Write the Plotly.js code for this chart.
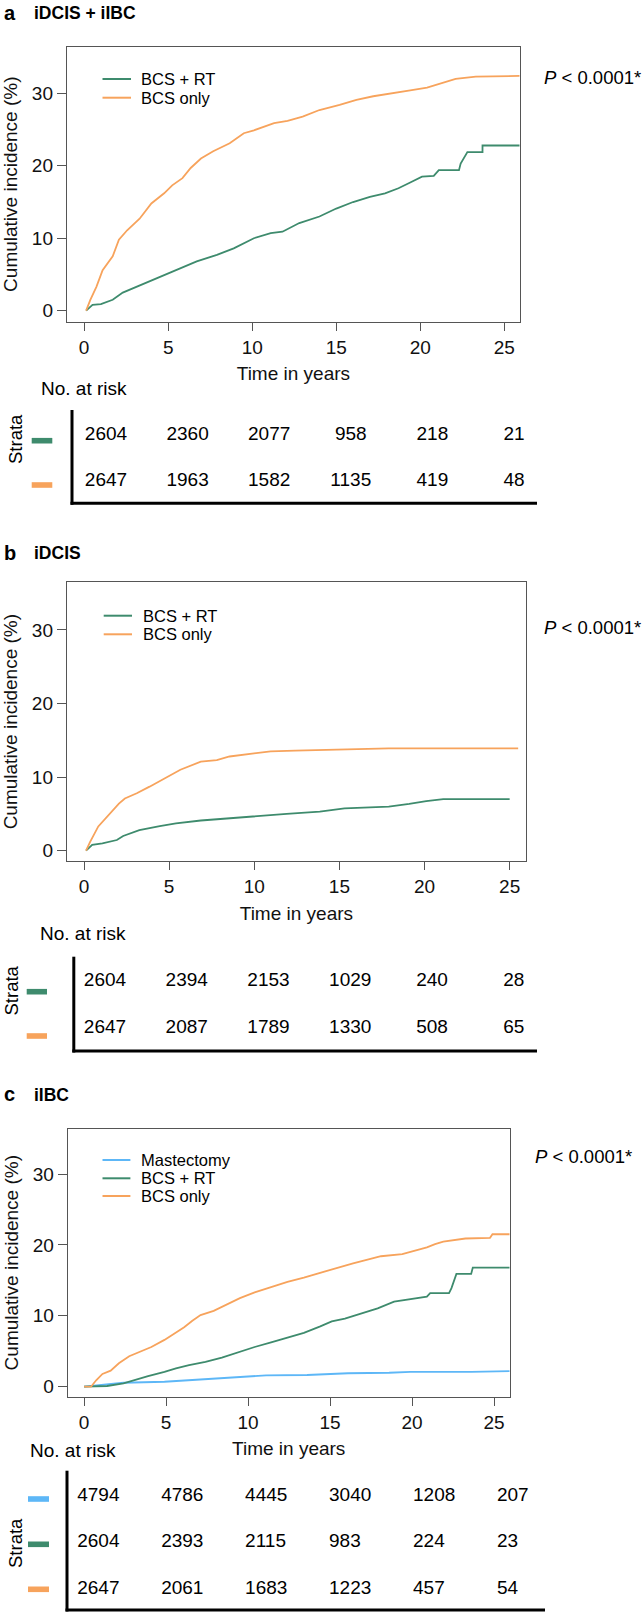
<!DOCTYPE html>
<html>
<head>
<meta charset="utf-8">
<script src="https://cdn.plot.ly/plotly-3.0.1.min.js"></script>
<style>html,body{margin:0;padding:0;background:#fff;}#chart{width:643px;height:1613px;}</style>
</head>
<body>
<div id="chart"></div>
<script>
// ---------- DATA ----------
const seriesNames = ['Mastectomy', 'BCS + RT', 'BCS only'];
const panelTitles = ['iDCIS + iIBC', 'iDCIS', 'iIBC'];
const panelLetters = ['a', 'b', 'c'];
const xTicks = [0, 5, 10, 15, 20, 25];
const yTicks = [0, 10, 20, 30];

// Panel a (iDCIS + iIBC)
const aRTx = [0.12,0.5,1.0,1.7,2.3,3.3,4.76,5.7,6.7,7.9,8.9,10.1,11.1,11.8,12.8,14.0,15.0,16.0,17.0,17.9,18.7,19.4,20.1,20.8,21.1,22.3,22.4,22.8,23.7,23.7,25.9];
const aRTy = [0,0.8,0.9,1.5,2.5,3.5,4.9,5.8,6.8,7.7,8.6,10.0,10.7,10.9,12.1,13.0,14.1,15.0,15.7,16.2,16.9,17.7,18.5,18.6,19.4,19.4,20.3,21.9,21.9,22.8,22.8];
const aOnlyx = [0.12,0.37,0.73,1.1,1.7,2.07,2.56,3.3,4.0,4.76,5.24,5.85,6.34,6.95,7.68,8.66,9.5,10.1,11.3,12.1,13.0,14.0,15.2,16.2,17.2,18.4,19.4,20.4,21.3,22.1,23.3,25.9];
const aOnlyy = [0,1.5,3.3,5.6,7.5,9.8,11.1,12.7,14.8,16.2,17.3,18.3,19.7,21.0,22.0,23.1,24.5,24.9,25.9,26.2,26.8,27.7,28.4,29.1,29.6,30.0,30.4,30.8,31.4,32.0,32.3,32.4];

// Panel b (iDCIS)
const bRTx = [0.12,0.48,1.08,1.93,2.3,3.25,4.45,5.4,6.86,8.55,10.0,11.9,13.85,15.3,17.9,19.1,20.1,21.1,25.0];
const bRTy = [0,0.8,1.0,1.45,2.0,2.8,3.35,3.7,4.1,4.4,4.75,5.0,5.3,5.75,6.0,6.35,6.75,7.0,7.0];
const bOnlyx = [0.12,0.36,0.84,1.45,2.05,2.4,3.1,3.85,4.7,5.66,6.86,7.8,8.55,9.5,10.96,12.4,14.3,16.7,17.9,25.5];
const bOnlyy = [0,1.2,3.3,4.8,6.4,7.1,7.8,8.7,9.8,11.0,12.1,12.3,12.8,13.1,13.5,13.6,13.7,13.8,13.9,13.9];

// Panel c (iIBC)
const cMastx = [0,1.4,2.4,4.9,7.4,9.9,11.1,13.6,16.1,18.6,19.9,23.6,25.95];
const cMasty = [0,0.38,0.56,0.7,1.03,1.4,1.6,1.65,1.9,1.97,2.1,2.1,2.2];
const cRTx = [0,1.4,2.4,3.1,3.9,4.9,5.6,6.4,7.4,8.4,9.4,10.4,11.4,12.4,13.4,14.4,15.1,15.9,16.9,17.9,18.9,19.9,20.9,21.1,22.25,22.4,22.7,23.6,23.7,25.95];
const cRTy = [0,0.1,0.47,1.0,1.5,2.1,2.6,3.05,3.5,4.1,4.9,5.6,6.25,6.96,7.6,8.5,9.2,9.6,10.3,11.05,12.0,12.3,12.7,13.2,13.2,13.9,15.9,15.9,16.8,16.8];
const cOnlyx = [0,0.42,0.75,1.12,1.62,2.12,2.75,3.4,4.1,4.9,5.5,6.1,6.6,7.1,7.9,8.6,9.5,10.4,11.4,12.4,13.4,14.4,15.4,16.4,17.4,18.1,19.4,19.9,20.9,21.4,21.9,23.25,24.75,24.9,25.95];
const cOnlyy = [0,0,0.94,1.8,2.26,3.3,4.3,4.9,5.6,6.6,7.5,8.4,9.3,10.1,10.7,11.5,12.5,13.3,14.1,14.8,15.4,16.1,16.7,17.4,18.0,18.4,18.7,19.0,19.65,20.1,20.45,20.9,21.0,21.5,21.5];

// Numbers at risk
const riskTimes = [0, 5, 10, 15, 20, 25];
const aRiskRT = [2604, 2360, 2077, 958, 218, 21];
const aRiskOnly = [2647, 1963, 1582, 1135, 419, 48];
const bRiskRT = [2604, 2394, 2153, 1029, 240, 28];
const bRiskOnly = [2647, 2087, 1789, 1330, 508, 65];
const cRiskMast = [4794, 4786, 4445, 3040, 1208, 207];
const cRiskRT = [2604, 2393, 2115, 983, 224, 23];
const cRiskOnly = [2647, 2061, 1683, 1223, 457, 54];

// ---------- STYLE ----------
const C_MAST = '#5DB7F7', C_RT = '#3E8B6D', C_ONLY = '#F7A35C';
const FONT = '"Liberation Sans", Arial, Helvetica, sans-serif';
const W = 643, H = 1613;
const X = p => p / W;
const Y = p => 1 - p / H;

const traces = [];
function line(x, y, color, name, xa, ya) {
  traces.push({x: x, y: y, type: 'scatter', mode: 'lines', name: name,
    line: {color: color, width: 1.8}, xaxis: xa, yaxis: ya, showlegend: false, hoverinfo: 'x+y+name'});
}
line(aRTx, aRTy, C_RT, seriesNames[1], 'x', 'y');
line(aOnlyx, aOnlyy, C_ONLY, seriesNames[2], 'x', 'y');
line(bRTx, bRTy, C_RT, seriesNames[1], 'x2', 'y2');
line(bOnlyx, bOnlyy, C_ONLY, seriesNames[2], 'x2', 'y2');
line(cMastx, cMasty, C_MAST, seriesNames[0], 'x3', 'y3');
line(cRTx, cRTy, C_RT, seriesNames[1], 'x3', 'y3');
line(cOnlyx, cOnlyy, C_ONLY, seriesNames[2], 'x3', 'y3');

function riskRow(vals, row, xa, ya, pos) {
  traces.push({x: riskTimes, y: riskTimes.map(() => row), text: vals.map(String),
    type: 'scatter', mode: 'text', textposition: pos,
    textfont: {size: 19, color: '#000', family: FONT},
    xaxis: xa, yaxis: ya, showlegend: false, hoverinfo: 'skip'});
}
riskRow(aRiskRT, 0, 'x4', 'y4', 'middle center');
riskRow(aRiskOnly, 1, 'x4', 'y4', 'middle center');
riskRow(bRiskRT, 0, 'x5', 'y5', 'middle center');
riskRow(bRiskOnly, 1, 'x5', 'y5', 'middle center');
riskRow(cRiskMast, 0, 'x6', 'y6', 'middle right');
riskRow(cRiskRT, 1, 'x6', 'y6', 'middle right');
riskRow(cRiskOnly, 2, 'x6', 'y6', 'middle right');

function plotX(dom, rng, anchor) {
  return {domain: [X(dom[0]), X(dom[1])], range: rng, anchor: anchor,
    tickmode: 'array', tickvals: xTicks, ticks: 'outside', ticklen: 8, tickwidth: 1, tickcolor: '#555',
    showline: true, mirror: true, linecolor: '#555', linewidth: 1,
    showgrid: false, zeroline: false, tickfont: {size: 19, color: '#111'},
    title: {text: 'Time in years', font: {size: 19, color: '#111'}, standoff: 10}};
}
function plotY(dom, rng, anchor) {
  return {domain: [Y(dom[1]), Y(dom[0])], range: rng, anchor: anchor,
    tickmode: 'array', tickvals: yTicks, ticks: 'outside', ticklen: 9, tickwidth: 1, tickcolor: '#555',
    showline: true, mirror: true, linecolor: '#555', linewidth: 1,
    showgrid: false, zeroline: false, tickfont: {size: 19, color: '#111'},
    title: {text: 'Cumulative incidence (%)', font: {size: 19, color: '#111'}, standoff: 9}};
}
function tableX(px0, slope, anchor) {
  return {domain: [0, 1], range: [(0 - px0) / slope, (W - px0) / slope], anchor: anchor,
    visible: false, fixedrange: true};
}
function tableY(top, bottom, row0, spacing, anchor) {
  return {domain: [Y(bottom), Y(top)], range: [(bottom - row0) / spacing, (top - row0) / spacing],
    anchor: anchor, visible: false, fixedrange: true};
}

const shapes = [];
const annotations = [];
function hline(x0, x1, y, color, w) {
  shapes.push({type: 'line', xref: 'paper', yref: 'paper', x0: X(x0), x1: X(x1), y0: Y(y), y1: Y(y),
    line: {color: color, width: w}});
}
function vline(x, y0, y1, color, w) {
  shapes.push({type: 'line', xref: 'paper', yref: 'paper', x0: X(x), x1: X(x), y0: Y(y0), y1: Y(y1),
    line: {color: color, width: w}});
}
function swatch(x0, x1, yc, color) {
  shapes.push({type: 'rect', xref: 'paper', yref: 'paper', x0: X(x0), x1: X(x1), y0: Y(yc + 2.8), y1: Y(yc - 2.8),
    fillcolor: color, line: {width: 0}});
}
function text(t, x, y, size, opts) {
  annotations.push(Object.assign({text: t, xref: 'paper', yref: 'paper', x: X(x), y: Y(y),
    xanchor: 'left', yanchor: 'middle', showarrow: false,
    font: {size: size, color: '#000', family: FONT}}, opts || {}));
}
function legendItem(lx0, lx1, tx, y, color, label) {
  hline(lx0, lx1, y, color, 2);
  text(label, tx, y, 16.5);
}
function panelTitle(letter, title, y) {
  text('<b>' + letter + '</b>', 1.5, y, 20);
  text('<b>' + title + '</b>', 31.5, y + 0.5, 17.5);
}
const pHtml = '<i>P</i> &lt; 0.0001*';

// Panel a decorations
panelTitle(panelLetters[0], panelTitles[0], 13);
legendItem(102.5, 131, 138.6, 79, C_RT, seriesNames[1]);
legendItem(102.5, 131, 138.6, 97.7, C_ONLY, seriesNames[2]);
text(pHtml, 541.7, 77.3, 18.5);
text('No. at risk', 39, 388.3, 19);
text('Strata', 16, 439, 18.5, {textangle: -90, xanchor: 'center'});
swatch(31.7, 52.3, 440.7, C_RT);
swatch(31.7, 52.3, 485, C_ONLY);
vline(72, 410, 504.8, '#000', 3);
hline(70.5, 537, 503.3, '#000', 3);

// Panel b decorations
panelTitle(panelLetters[1], panelTitles[1], 552.5);
legendItem(103.7, 132, 140.6, 615.7, C_RT, seriesNames[1]);
legendItem(103.7, 132, 140.6, 634.3, C_ONLY, seriesNames[2]);
text(pHtml, 542, 627.3, 18.5);
text('No. at risk', 37.7, 933.3, 19);
text('Strata', 11, 990.5, 18.5, {textangle: -90, xanchor: 'center'});
swatch(26.7, 47, 991.7, C_RT);
swatch(26.7, 47, 1036, C_ONLY);
vline(73.8, 956.7, 1052.5, '#000', 3);
hline(72.3, 537, 1051, '#000', 3);

// Panel c decorations
panelTitle(panelLetters[2], panelTitles[2], 1094);
legendItem(102.5, 130.4, 138.6, 1160, C_MAST, seriesNames[0]);
legendItem(102.5, 130.4, 138.6, 1178.3, C_RT, seriesNames[1]);
legendItem(102.5, 130.4, 138.6, 1196, C_ONLY, seriesNames[2]);
text(pHtml, 533, 1156.7, 18.5);
text('No. at risk', 28, 1450, 19);
text('Strata', 15, 1543, 18.5, {textangle: -90, xanchor: 'center'});
swatch(28, 49, 1499, C_MAST);
swatch(28, 49, 1544.3, C_RT);
swatch(28, 49, 1589.3, C_ONLY);
vline(67, 1470.7, 1611.5, '#000', 3);
hline(65.5, 545, 1610, '#000', 3);

const layout = {
  width: W, height: H,
  margin: {l: 0, r: 0, t: 0, b: 0, pad: 0},
  paper_bgcolor: '#fff', plot_bgcolor: '#fff',
  font: {family: FONT, color: '#000', size: 19},
  showlegend: false,
  xaxis: plotX([66.8, 520], [-1.03, 25.93], 'y'),
  yaxis: plotY([46.7, 321.7], [-1.52, 36.44], 'x'),
  xaxis2: plotX([66.8, 526], [-1.01, 25.96], 'y2'),
  yaxis2: plotY([582.3, 861], [-1.40, 36.47], 'x2'),
  xaxis3: plotX([67.7, 509.7], [-1.0, 25.95], 'y3'),
  yaxis3: plotY([1128.7, 1396.7], [-1.41, 36.39], 'x3'),
  xaxis4: tableX(106, 16.32, 'y4'),
  yaxis4: tableY(405, 500, 435, 46.7, 'x4'),
  xaxis5: tableX(105, 16.35, 'y5'),
  yaxis5: tableY(955, 1048, 981.7, 46.6, 'x5'),
  xaxis6: tableX(77.2, 16.79, 'y6'),
  yaxis6: tableY(1468, 1607, 1496, 46.65, 'x6'),
  shapes: shapes,
  annotations: annotations
};

Plotly.newPlot('chart', traces, layout, {staticPlot: true, displayModeBar: false});
</script>
</body>
</html>
